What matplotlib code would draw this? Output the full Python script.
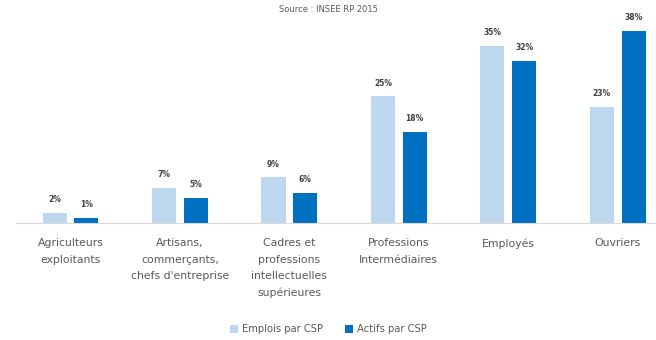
import matplotlib
matplotlib.use("Agg")
import matplotlib.pyplot as plt
import numpy as np

categories = ["Agriculteurs\nexploitants", "Artisans,\ncommerçants,\nchefs d'entreprise",
              "Cadres et\nprofessions\nintellectuelles\nsupérieures", "Professions\nIntermédiaires",
              "Employés", "Ouvriers"]
emplois = [2, 7, 9, 25, 35, 23]
actifs = [1, 5, 6, 18, 32, 38]
series_names = ["Emplois par CSP", "Actifs par CSP"]

c_light = "#BDD7EE"
c_dark = "#0070C0"

fig = plt.figure(figsize=(6.56, 3.4), dpi=100)
ax = fig.add_axes([0.024, 0.344, 0.976, 0.596])
x = np.arange(len(categories))
w = 0.22
off = 0.145
b1 = ax.bar(x - off, emplois, w, color=c_light, label=series_names[0])
b2 = ax.bar(x + off, actifs, w, color=c_dark, label=series_names[1])
for bars, vals in ((b1, emplois), (b2, actifs)):
    for r, v in zip(bars, vals):
        ax.text(r.get_x() + r.get_width() / 2, v + 1.7, f"{v}%", ha="center", va="bottom",
                fontsize=5.5, fontweight="bold", color="#404040")
ax.set_xlim(-0.5, 5.35)
ax.set_ylim(0, 40)
ax.set_yticks([])
for s in ["top", "right", "left"]:
    ax.spines[s].set_visible(False)
ax.spines["bottom"].set_color("#D9D9D9")
ax.set_xticks(x)
ax.set_xticklabels(categories, fontsize=7.8, color="#595959", linespacing=1.8)
ax.tick_params(axis="x", length=0, pad=11)
fig.text(0.5, 0.985, "Source : INSEE RP 2015", ha="center", va="top", fontsize=6, color="#595959")
fig.legend(loc="lower center", bbox_to_anchor=(0.5, -0.01), ncol=2, frameon=False, fontsize=7.2,
           labelcolor="#595959", handlelength=0.8, handleheight=0.8, columnspacing=2.2,
           handletextpad=0.4)
fig.savefig("out.png", dpi=100)
